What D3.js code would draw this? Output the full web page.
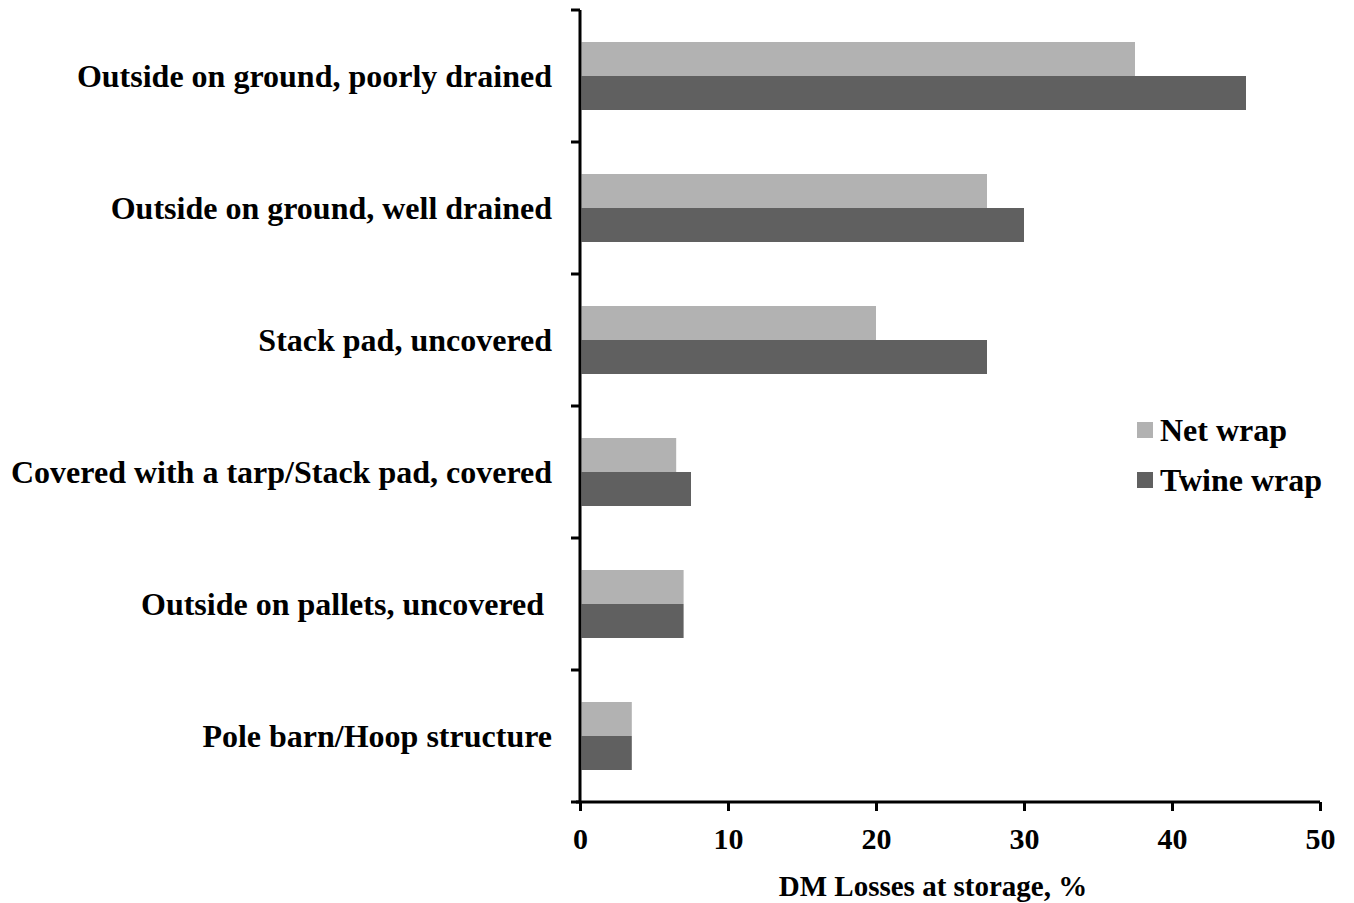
<!DOCTYPE html>
<html><head><meta charset="utf-8">
<script src="https://cdn.jsdelivr.net/npm/d3@7"></script>
<style>body{margin:0;background:#fff}svg{display:block}text{font-family:"Liberation Serif","Times New Roman",serif;font-weight:bold;fill:#000;white-space:pre}</style>
</head><body>
<svg id="chart" width="1354" height="903"></svg>
<script>
const categories = ["Outside on ground, poorly drained","Outside on ground, well drained","Stack pad, uncovered","Covered with a tarp/Stack pad, covered","Outside on pallets, uncovered ","Pole barn/Hoop structure"];
const seriesNames = ["Net wrap","Twine wrap"];
const netWrap = [37.5, 27.5, 20, 6.5, 7, 3.5];
const twineWrap = [45, 30, 27.5, 7.5, 7, 3.5];
const xTicks = [0,10,20,30,40,50];
const xTitle = "DM Losses at storage, %";
const colors = ["#b2b2b2","#606060"];

(function(){
const svg = d3.select("#chart");
const mLeft = 580, mRight = 1320, mTop = 10, mBottom = 802;
const x = d3.scaleLinear().domain([0,50]).range([mLeft,mRight]);
const y = d3.scaleBand().domain(categories).range([mTop,mBottom]).padding(0);
const ys = d3.scaleBand().domain(seriesNames).range([0,y.bandwidth()]).paddingInner(0).paddingOuter(32/34);
const series = [netWrap, twineWrap];

series.forEach((vals,si)=>{
  svg.append("g").selectAll("rect").data(vals).join("rect")
    .attr("x", x(0)+1.5)
    .attr("y",(d,i)=>y(categories[i])+ys(seriesNames[si]))
    .attr("width",d=>x(d)-x(0)-1.5)
    .attr("height",ys.bandwidth())
    .attr("fill",colors[si]);
});

svg.append("line").attr("x1",mLeft).attr("x2",mLeft).attr("y1",mTop).attr("y2",mBottom).attr("stroke","#000").attr("stroke-width",3);
const bounds = categories.map(c=>y(c)).concat([mBottom]);
svg.append("g").selectAll("line").data(bounds).join("line")
  .attr("x1",mLeft-9).attr("x2",mLeft).attr("y1",d=>d).attr("y2",d=>d).attr("stroke","#000").attr("stroke-width",3);
svg.append("g").selectAll("text").data(categories).join("text")
  .attr("x",552).attr("y",d=>y(d)+y.bandwidth()/2).attr("text-anchor","end").attr("dominant-baseline","central")
  .style("font-size","32px").text(d=>d);

const xa = svg.append("g").attr("transform",`translate(0,${mBottom})`)
  .call(d3.axisBottom(x).tickValues(xTicks).tickSize(9).tickPadding(17).tickFormat(d3.format("d")));
xa.select(".domain").attr("stroke","#000").attr("stroke-width",3).attr("d",`M${mLeft-4},0H${mRight}`);
xa.selectAll(".tick line").attr("stroke","#000").attr("stroke-width",3);
xa.selectAll(".tick text").style("font-size","30px").style("font-family","'Liberation Serif',serif").style("font-weight","bold").attr("fill","#000");
svg.append("text").attr("x",933).attr("y",886).attr("text-anchor","middle").attr("dominant-baseline","central").style("font-size","29px").text(xTitle);

const lg = svg.append("g").selectAll("g").data(seriesNames).join("g")
  .attr("transform",(d,i)=>`translate(1137,${430+i*50})`);
lg.append("rect").attr("x",0).attr("y",-8).attr("width",16).attr("height",16).attr("fill",(d,i)=>colors[i]);
lg.append("text").attr("x",23).attr("y",0).attr("dominant-baseline","central").style("font-size","32px").text(d=>d);
})();
</script>
</body></html>
